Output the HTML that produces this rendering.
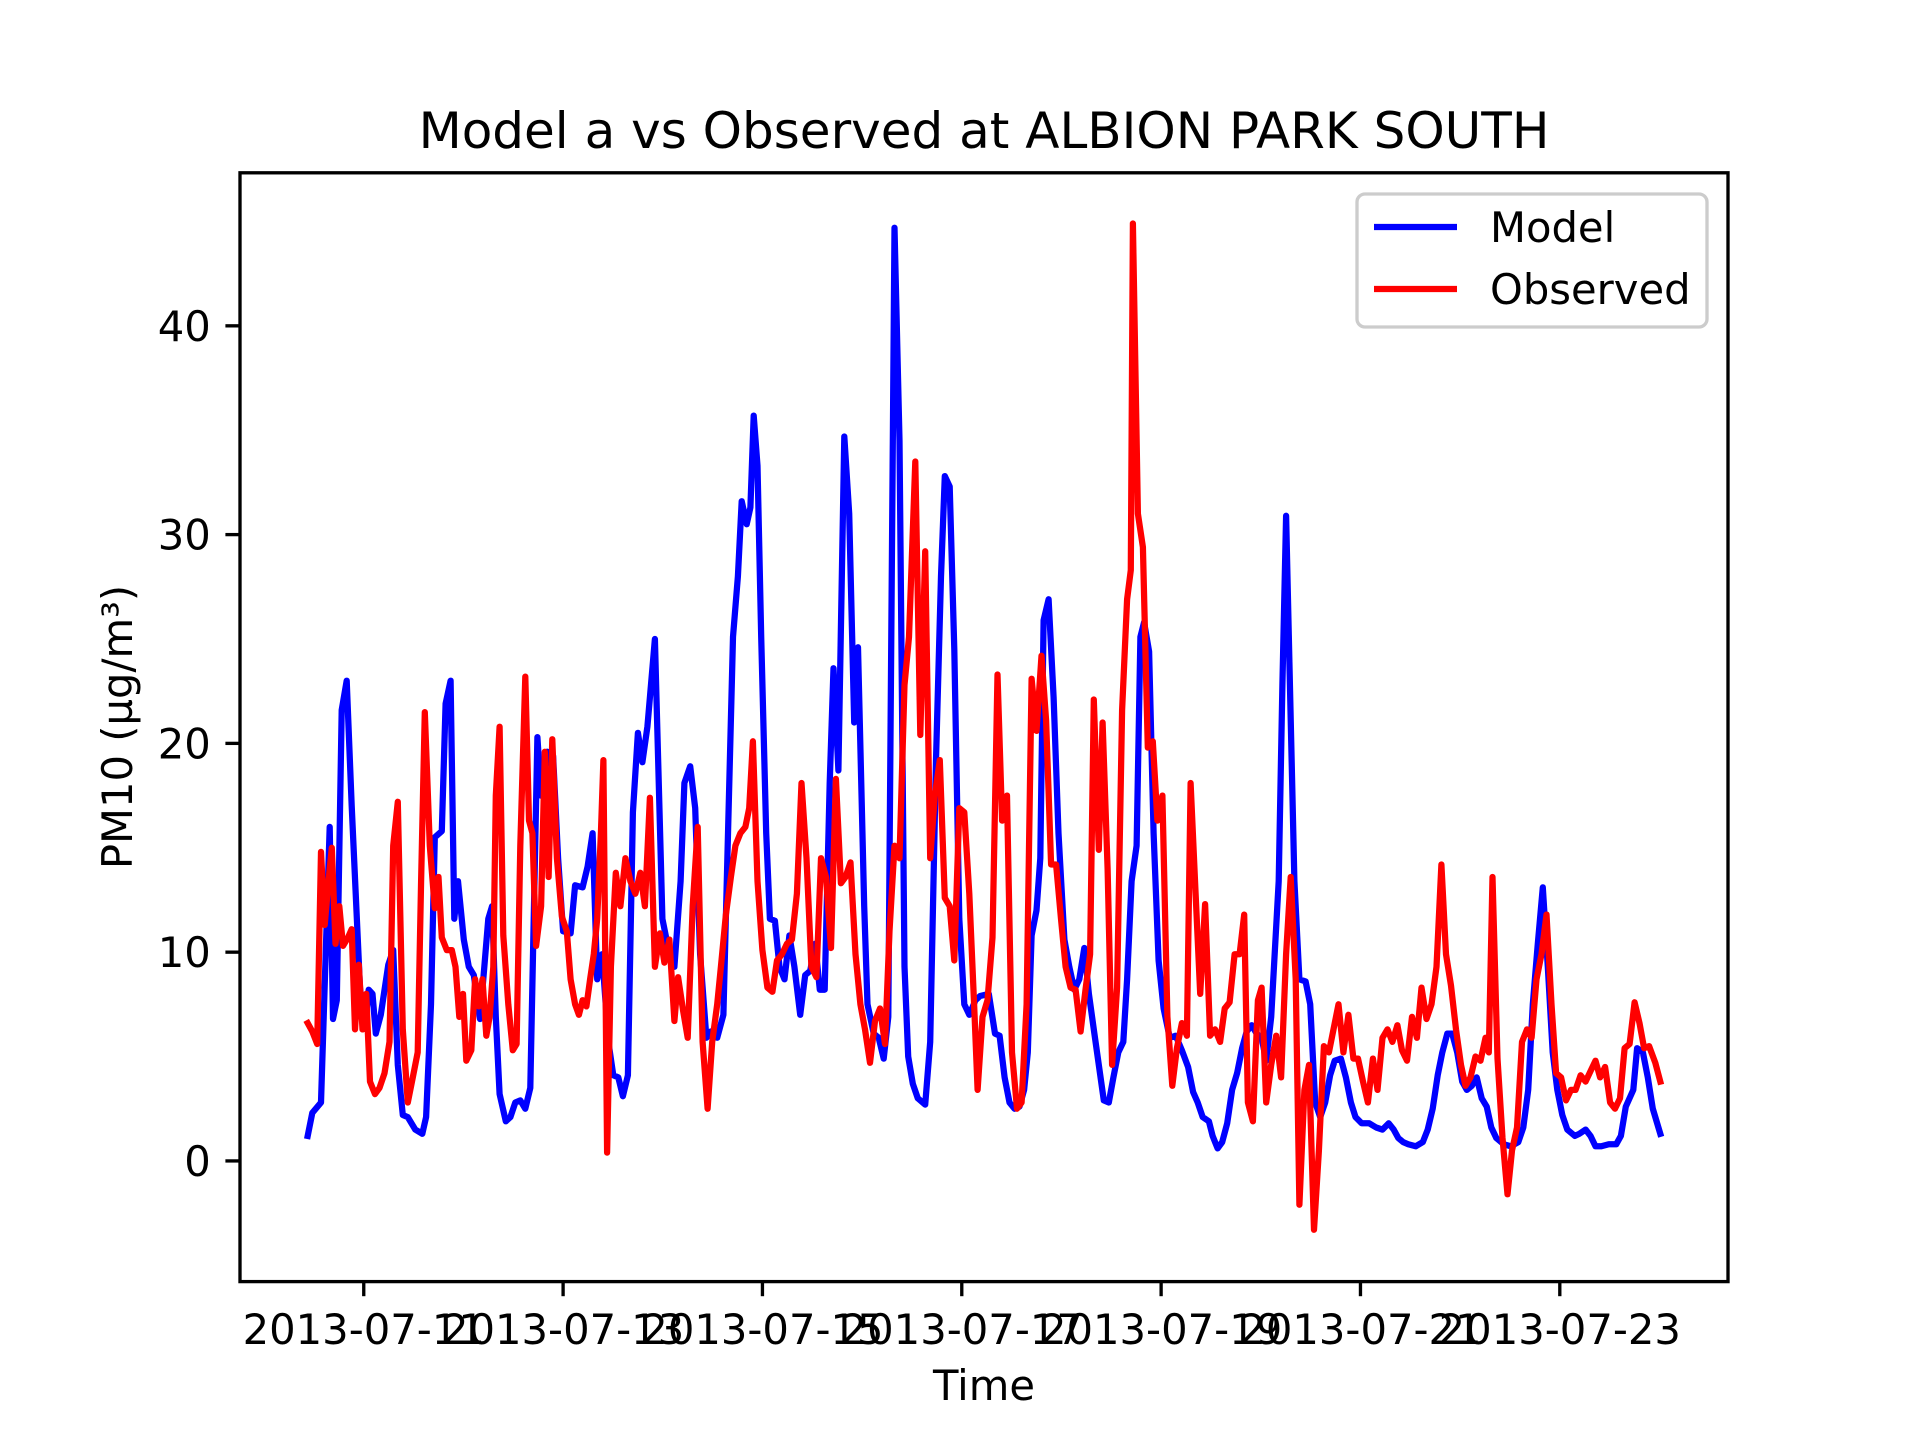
<!DOCTYPE html>
<html><head><meta charset="utf-8"><style>
html,body{margin:0;padding:0;background:#fff;}
svg{display:block;font-family:"DejaVu Sans","Liberation Sans",sans-serif;}
</style></head><body>
<svg id="chart" width="1920" height="1440" viewBox="0 0 1920 1440" xmlns="http://www.w3.org/2000/svg">
<rect width="1920" height="1440" fill="#fff"/>
<text x="984" y="148" font-size="50" text-anchor="middle" fill="#000">Model a vs Observed at ALBION PARK SOUTH</text>
<g id="plot"></g>
<text x="984" y="1400" font-size="41.7" text-anchor="middle" fill="#000">Time</text>
<text transform="translate(132,727) rotate(-90)" font-size="41.7" text-anchor="middle" fill="#000">PM10 (µg/m³)</text>
</svg>
<script>
const xTickHours = [24, 72, 120, 168, 216, 264, 312];
const xTickLabels = ["2013-07-11","2013-07-13","2013-07-15","2013-07-17","2013-07-19","2013-07-21","2013-07-23"];
const yTicks = [0, 10, 20, 30, 40];
const modelHours = [10.5,11.6,13.7,15.8,16.6,17.5,18.7,19.9,21.1,23.1,24.3,25.2,26.1,26.9,28.1,29.9,31.1,32.2,33.4,34.6,36.4,38.1,39,40.2,41.1,42.8,43.7,44.9,45.8,46.7,48.1,49.3,50.5,52,54,54.9,55.8,56.7,58.2,59.3,60.5,61.7,62.9,64.1,65.8,66.7,68.2,69.6,70.8,72,73.8,74.9,76.7,77.9,79.1,80.2,81.4,82.9,84.1,85.3,86.4,87.6,88.8,90,91.1,92.3,94.1,95.9,97.3,98.8,100.3,101.2,102.6,103.8,105,106.5,107.6,109.1,110.6,112.9,114.1,115,116.2,117.1,117.9,118.8,119.7,120.9,121.8,123,124.1,125.3,126.5,127.7,129.1,130.3,131.5,132.7,133.8,135,136.2,137.1,138.3,139.7,140.9,142.1,143,144.5,145.3,146.8,148,149.2,150.3,151.8,153,154.2,155.1,156.2,157.4,159.2,160.4,161.8,163,163.9,165.1,166.2,167.4,168.6,169.8,171.3,172.4,174.5,176,177.1,178.3,179.5,180.7,181.9,183,183.9,184.8,186,186.9,187.7,188.9,190.1,191.3,192.7,193.9,195.1,196.3,197.5,198.6,199.8,201,202.2,203.4,204.5,205.7,206.9,207.8,208.9,210.1,211,211.9,213.1,214.2,215.4,216.6,218.1,219.5,221,222.5,223.7,224.8,226,227.5,228.4,229.6,230.7,231.9,233.1,234.3,235.5,236.6,237.8,239,240.2,241.3,242.5,244.3,245.2,246.1,246.9,248.1,249.3,250.8,251.9,253.1,254.3,255.5,256.7,257.8,259.3,260.5,261.7,262.8,264.3,266.1,267.8,269.3,270.8,272,273.1,274.3,275.5,277.3,279,280.2,281.4,282.6,283.7,284.9,286.1,287.3,288.5,289.6,290.8,292,293.2,294.4,295.5,296.7,298.5,300.2,302,303.2,304.4,305.5,306.7,307.9,309.1,310.3,311.4,312.6,313.8,315.6,316.7,318.2,319.4,320.6,322,323.8,325.6,326.7,327.9,329.7,330.6,332,333.2,334.4,336.2];
const modelValues = [1.2,2.3,2.8,16,6.8,7.7,21.6,23,17,8.3,6.5,8.2,8,6.1,7,9.4,10.1,4.6,2.2,2.1,1.5,1.3,2.1,7.5,15.5,15.8,21.9,23,11.6,13.4,10.6,9.3,8.9,6.8,11.6,12.2,6.9,3.2,1.9,2.1,2.8,2.9,2.5,3.5,20.3,17.5,19.6,19.4,14.5,11,10.9,13.2,13.1,14.1,15.7,8.7,9.9,5.7,4.1,4,3.1,4.1,16.7,20.5,19.1,20.8,25,11.6,10.2,9.3,13.4,18.1,18.9,16.9,9.9,5.9,6.2,5.9,7,25.1,28,31.6,30.5,31.3,35.7,33.3,25.1,15.7,11.6,11.5,9.3,8.7,10.8,9.3,7,8.9,9.1,10.4,8.2,8.2,18.1,23.6,18.7,34.7,31,21,24.6,12.2,7.5,6.1,5.9,4.9,6.9,44.7,34.5,9.3,5,3.7,3,2.7,5.7,19.2,28,32.8,32.3,24.5,11.6,7.5,7,7.7,7.9,8,6.1,6,4,2.8,2.5,2.6,3.4,5.2,10.8,12,14.5,25.9,26.9,22.2,15.7,10.6,9.3,8.2,8.7,10.2,8,6.3,4.6,2.9,2.8,4,5.2,5.7,8.7,13.4,15.1,25.1,25.8,24.4,15.7,9.6,7.3,5.9,6,5.3,4.5,3.3,2.8,2.1,1.9,1.2,0.6,0.9,1.8,3.4,4.2,5.4,6.2,6.5,6.1,5.9,4.8,6.9,13.4,22.8,30.9,23.9,13.4,8.7,8.6,7.5,2.8,2.1,2.8,4.1,4.8,4.9,4,2.8,2.1,1.8,1.8,1.6,1.5,1.8,1.5,1.1,0.9,0.8,0.7,0.9,1.5,2.5,4.1,5.2,6.1,6.1,5.2,3.8,3.4,3.6,4,3,2.6,1.6,1.1,0.8,0.7,0.9,1.6,3.4,7.5,10.4,13.1,9.3,5.2,3.4,2.2,1.5,1.2,1.3,1.5,1.2,0.7,0.7,0.8,0.8,1.2,2.6,3.4,5.4,5.2,4,2.5,1.3];
const obsHours = [10.5,11.6,12.8,13.7,14.6,15.5,16.3,17.2,18.1,19,20.2,21.1,21.9,22.8,23.7,24.6,25.5,26.7,27.8,29,30.2,31.1,32.2,33.4,34.6,35.8,37,37.8,38.7,39.9,41.1,42,42.8,44,45.2,46.1,47,47.9,48.7,49.9,50.8,51.7,52.6,53.5,54.3,55.2,55.8,56.7,57.6,58.8,59.9,60.8,61.7,62.9,63.8,64.6,65.5,66.7,67.6,68.5,69.4,70.5,71.7,72.9,73.8,74.9,75.8,76.7,77.6,78.5,79.4,80.2,81.1,81.7,82.6,83.5,84.7,85.8,87,88.2,89.4,90.6,91.7,92.9,94.1,95.3,96.4,97.6,98.8,99.7,100.9,102,103.2,104.4,105.6,106.8,107.9,109.1,110,111.2,112.4,113.5,114.7,115.9,116.8,117.7,118.8,120,121.2,122.4,123.5,124.7,125.9,127.1,128.3,129.4,130.6,131.8,133,134.1,135.3,136.5,137.7,138.9,140,141.2,142.4,143.6,144.7,145.9,147.1,148.3,149.5,150.6,151.8,153,154.2,155.3,156.8,158,159.2,160.4,161.5,162.7,163.9,165.1,166.2,167.4,168.6,169.8,171,171.8,173,174.2,175.4,176.6,177.7,178.9,180.1,181.3,182.4,183.6,184.8,186,187.2,188.3,189.5,190.7,191.9,193,194.2,195.4,196.6,197.8,198.9,199.8,201,201.9,203.1,204.2,205.4,206.6,207.8,208.7,209.2,210.4,211.6,212.8,214,215.1,216.3,217.5,218.7,219.8,221,222.2,223.1,224.3,225.4,226.6,227.8,229,230.2,231.3,232.5,233.7,234.9,236,236.9,238.1,239.3,240.2,241.3,242.5,243.7,244.9,246.1,247.2,248.4,249.3,250.5,251.6,252.8,254,255.2,256.4,257.5,258.7,259.9,261.1,262.3,263.4,264.6,265.8,267,268.1,269.3,270.5,271.7,272.9,274,275.2,276.4,277.6,278.7,279.9,281.1,282.3,283.5,284.6,285.8,287,288.2,289.3,290.5,291.7,292.9,294.1,294.9,295.8,297,298.2,299.4,300.5,301.7,302.9,304.1,305.2,306.4,307.6,308.8,310,311.1,312.3,313.5,314.7,315.8,317,318.2,319.4,320.6,321.7,322.9,324.1,325.3,326.5,327.6,328.8,330,331.2,332.3,333.5,335,336.2];
const obsValues = [6.6,6.2,5.6,14.8,11.3,13.4,15,10.4,12.2,10.3,10.7,11.1,6.3,9.4,6.3,8,3.8,3.2,3.5,4.2,5.7,15.1,17.2,6.3,2.8,4,5.2,13.4,21.5,15.1,12.1,13.6,10.7,10.1,10.1,9.3,6.9,8,4.8,5.3,8.7,7.4,8.7,6,6.9,9.3,17.5,20.8,10.8,7.5,5.3,5.6,15.1,23.2,16.3,15.7,10.3,12.2,19.6,13.6,20.2,14.5,11.7,11,8.7,7.5,7,7.7,7.4,8.7,9.9,11.6,15.7,19.2,0.4,9.3,13.8,12.2,14.5,13.4,12.8,13.8,12.2,17.4,9.3,10.9,9.5,10.6,6.7,8.8,7.2,5.9,12.2,16,5.7,2.5,5.7,7.5,9.3,11.8,13.6,15.1,15.7,16,16.9,20.1,13.4,10.1,8.3,8.1,9.6,9.9,10.4,10.6,12.8,18.1,14.5,9.3,8.8,14.5,13.6,10.2,18.3,13.3,13.6,14.3,9.9,7.5,6.3,4.7,6.7,7.3,5.6,11,15.1,14.5,22.8,25.1,33.5,20.4,29.2,14.5,17.5,19.2,12.6,12.2,9.6,16.9,16.7,12.8,7.4,3.4,6.9,7.7,10.7,23.3,16.3,17.5,5.2,2.5,2.8,7.5,23.1,20.6,24.2,21.1,14.2,14.2,11.6,9.3,8.3,8.2,6.2,8.2,9.9,22.1,14.9,21,14,4.6,8.3,21.6,26.9,28.3,44.9,31,29.4,19.8,20.1,16.3,17.5,6.9,3.6,5.4,6.6,6,18.1,12.8,8,12.3,6,6.3,5.7,7.3,7.6,9.9,9.9,11.8,2.8,1.9,7.7,8.3,2.8,4.6,6,4,9.9,13.6,8.7,-2.1,3.4,4.6,-3.3,0.5,5.5,5.2,6.3,7.5,5.2,7,4.9,4.9,3.8,2.8,4.9,3.4,5.9,6.3,5.7,6.5,5.3,4.8,6.9,5.9,8.3,6.8,7.5,9.3,14.2,9.9,8.4,6.3,4.6,3.6,4,5,4.8,5.9,5.2,13.6,4.9,1.1,-1.6,0.5,1.6,5.7,6.3,5.9,8.7,9.9,11.8,7.5,4.2,4,2.9,3.4,3.4,4.1,3.8,4.3,4.8,4,4.5,2.8,2.5,3,5.4,5.6,7.6,6.6,5.4,5.5,4.7,3.8];

const NS = "http://www.w3.org/2000/svg";
const L = 240, R = 1728, T = 172.8, B = 1281.6;
const XMIN = -5.8, XMAX = 352.5, YMIN = -5.78, YMAX = 47.33;
function xs(h){ return L + (h - XMIN) / (XMAX - XMIN) * (R - L); }
function ys(v){ return B - (v - YMIN) / (YMAX - YMIN) * (B - T); }
function mk(tag, attrs){ const e = document.createElementNS(NS, tag); for (const k in attrs) e.setAttribute(k, attrs[k]); return e; }
const g = document.getElementById('plot');

const clip = mk('clipPath', {id:'clipax'});
clip.appendChild(mk('rect', {x:L, y:T, width:R-L, height:B-T}));
g.appendChild(clip);

function series(hours, vals, color, name){
  const p = mk('path', {d: hours.map((h,i)=>(i?'L':'M')+xs(h).toFixed(1)+' '+ys(vals[i]).toFixed(1)).join(' '), fill:'none', stroke:color, 'stroke-width':6.25, 'stroke-linejoin':'round', 'stroke-linecap':'square', 'clip-path':'url(#clipax)'});
  
  
  g.appendChild(p);
}
series(modelHours, modelValues, '#0000ff', 'model-line');
series(obsHours, obsValues, '#ff0000', 'observed-line');

const frame = mk('rect', {x:L, y:T, width:R-L, height:B-T, fill:'none', stroke:'#000', 'stroke-width':3.33});


g.appendChild(frame);

xTickHours.forEach((h, i) => {
  const x = xs(h);
  const t = mk('line', {x1:x, x2:x, y1:B, y2:B+14.6, stroke:'#000', 'stroke-width':3.33});
  
  
  g.appendChild(t);
  const lb = mk('text', {x:x, y:B+29.2+33, 'font-size':41.7, 'text-anchor':'middle', fill:'#000'});
  lb.textContent = xTickLabels[i];
  
  
  g.appendChild(lb);
});
yTicks.forEach(v => {
  const y = ys(v);
  const t = mk('line', {x1:L-14.6, x2:L, y1:y, y2:y, stroke:'#000', 'stroke-width':3.33});
  
  
  g.appendChild(t);
  const lb = mk('text', {x:L-29.2, y:y+15, 'font-size':41.7, 'text-anchor':'end', fill:'#000'});
  lb.textContent = String(v);
  
  
  g.appendChild(lb);
});

const leg = mk('g', {});


const box = mk('rect', {x:1357, y:194, width:350, height:133, rx:8, fill:'#fff', 'fill-opacity':0.8, stroke:'#cccccc', 'stroke-width':3.33});


leg.appendChild(box);
[['Model','#0000ff',227],['Observed','#ff0000',289]].forEach(([label,color,cy]) => {
  const ln = mk('line', {x1:1374, x2:1457, y1:cy, y2:cy, stroke:color, 'stroke-width':6.25});
  
  
  leg.appendChild(ln);
  const tx = mk('text', {x:1490, y:cy+15, 'font-size':41.7, fill:'#000'});
  tx.textContent = label;
  
  
  leg.appendChild(tx);
});
g.appendChild(leg);
</script>
</body></html>
